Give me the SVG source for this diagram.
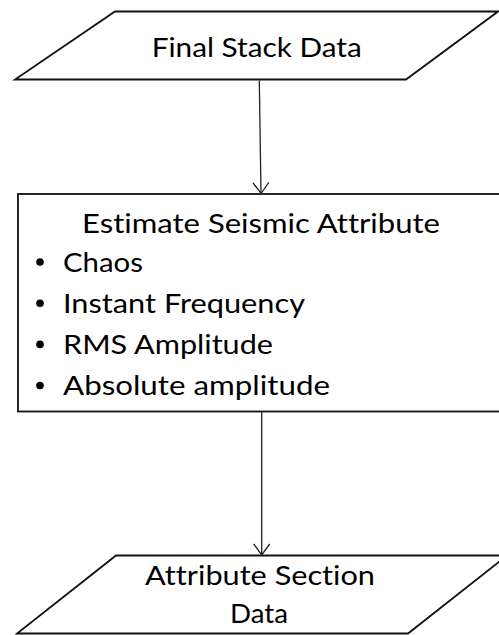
<svg xmlns="http://www.w3.org/2000/svg" width="499" height="635" viewBox="0 0 499 635">
  <style>
    .shape { fill: #ffffff; stroke: #111111; stroke-width: 1.8; stroke-linejoin: miter; }
    .link { fill: none; stroke: #222222; stroke-width: 1.3; }
    .label { font-family: Lato, "Open Sans", "Liberation Sans", sans-serif; font-size: 26.5px; fill: #000000; font-variant-ligatures: none; }
    .mid { text-anchor: middle; }
    .bullet { fill: #000000; }
  </style>
  <defs>
    <marker id="openArrow" viewBox="0 0 13 18" refX="12" refY="9" markerWidth="13" markerHeight="18" markerUnits="userSpaceOnUse" orient="auto">
      <path d="M1,1 L12,9 L1,17" fill="none" stroke="#222222" stroke-width="1.3"/>
    </marker>
  </defs>

  <rect width="499" height="635" fill="#ffffff"/>

  <!-- input data -->
  <g id="final-stack-data">
    <polygon class="shape" points="115,11.5 498,11.5 406,79.5 15,79.5"/>
    <text class="label mid" x="256.7" y="56.7" textLength="210" lengthAdjust="spacingAndGlyphs">Final Stack Data</text>
  </g>

  <!-- processing step -->
  <g id="estimate-seismic-attribute">
    <rect class="shape" x="18" y="194" width="500" height="217.5"/>
    <text class="label mid" x="261" y="232.5" textLength="358" lengthAdjust="spacingAndGlyphs">Estimate Seismic Attribute</text>
    <circle class="bullet" cx="40" cy="262" r="3.8"/>
    <circle class="bullet" cx="40" cy="303.2" r="3.8"/>
    <circle class="bullet" cx="40" cy="344.4" r="3.8"/>
    <circle class="bullet" cx="40" cy="385.5" r="3.8"/>
    <g class="label">
      <text x="63" y="271.5" textLength="80" lengthAdjust="spacingAndGlyphs">Chaos</text>
      <text x="63" y="312.7" textLength="242" lengthAdjust="spacingAndGlyphs">Instant Frequency</text>
      <text x="63" y="353.9" textLength="210" lengthAdjust="spacingAndGlyphs">RMS Amplitude</text>
      <text x="63" y="395" textLength="267" lengthAdjust="spacingAndGlyphs">Absolute amplitude</text>
    </g>
  </g>

  <!-- output data -->
  <g id="attribute-section-data">
    <polygon class="shape" points="116,555.5 507,555.5 408,633.5 17,633.5"/>
    <text class="label mid" x="260" y="585" textLength="230" lengthAdjust="spacingAndGlyphs">Attribute Section</text>
    <text class="label mid" x="259" y="623.3" textLength="58" lengthAdjust="spacingAndGlyphs">Data</text>
  </g>

  <!-- connectors -->
  <g id="connectors">
    <line class="link" x1="259.3" y1="80.5" x2="261" y2="193.5" marker-end="url(#openArrow)"/>
    <line class="link" x1="261.7" y1="412" x2="261.7" y2="555" marker-end="url(#openArrow)"/>
  </g>
</svg>
